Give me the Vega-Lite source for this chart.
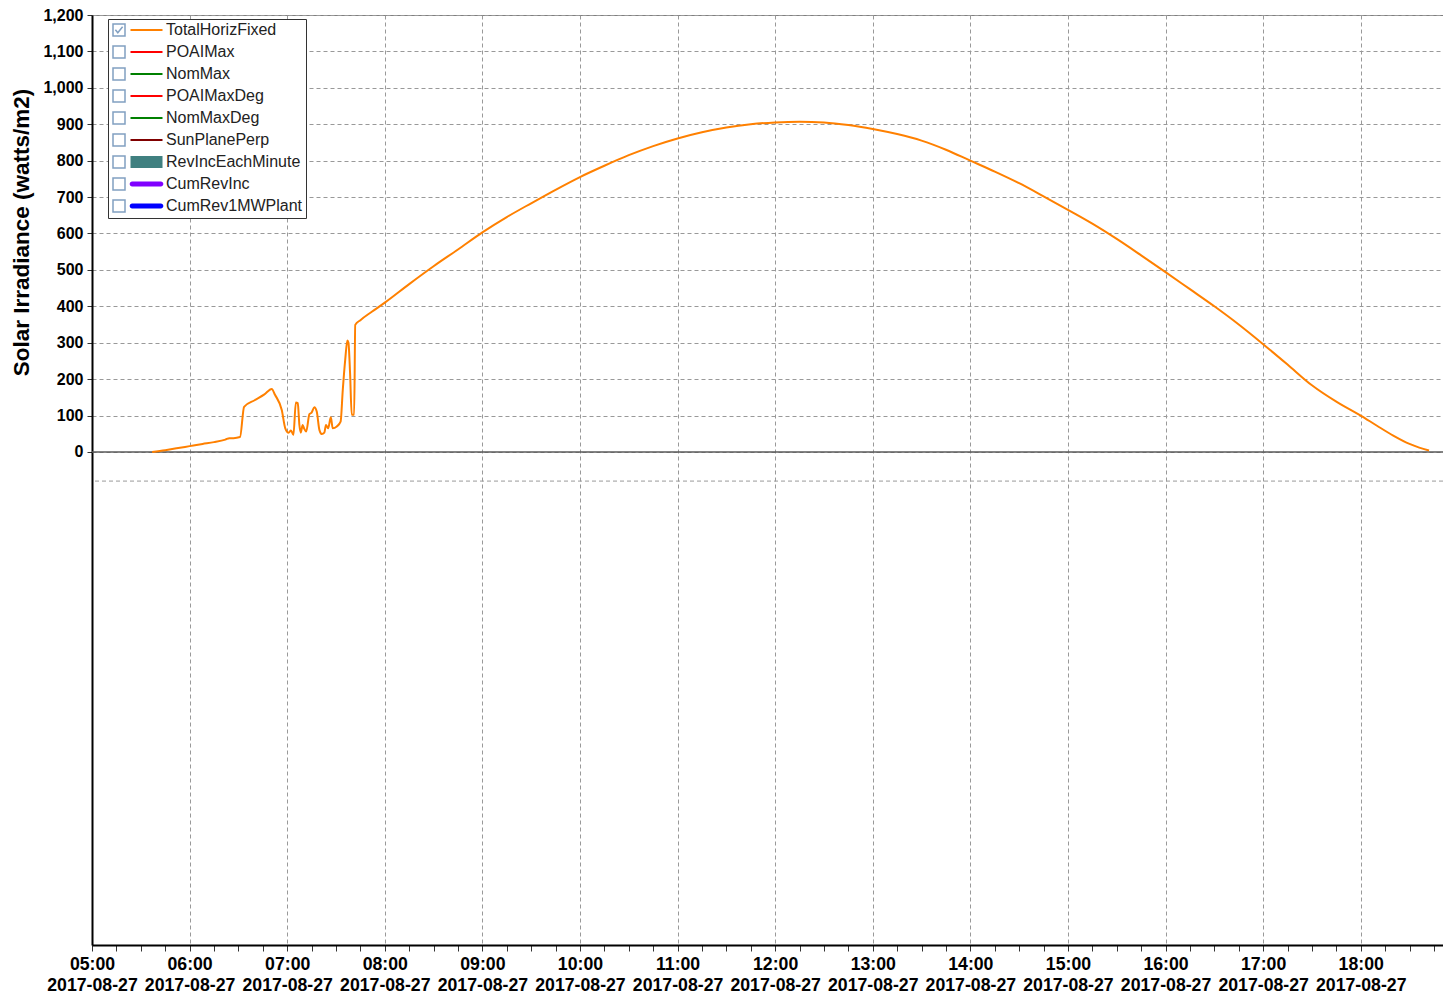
{
  "$schema": "https://vega.github.io/schema/vega-lite/v6.json",
  "width": 1351,
  "height": 930,
  "autosize": {"type": "none"},
  "padding": {"left": 92, "top": 15, "right": 0, "bottom": 50},
  "background": "white",
  "config": {
    "view": {"stroke": "#808080", "strokeWidth": 1},
    "font": "Liberation Sans"
  },
  "title": {
    "text": "Miller Roof, Berkeley CA",
    "font": "Liberation Sans",
    "fontSize": 26,
    "fontWeight": "bold",
    "color": "black",
    "anchor": "middle",
    "baseline": "alphabetic",
    "offset": 0,
    "dy": 10
  },
  "datasets": {
    "irr": [
      {"t": "2017-08-27T05:37:00", "v": 0, "series": "TotalHorizFixed"},
      {"t": "2017-08-27T05:45:00", "v": 5, "series": "TotalHorizFixed"},
      {"t": "2017-08-27T05:52:00", "v": 10, "series": "TotalHorizFixed"},
      {"t": "2017-08-27T06:00:00", "v": 16, "series": "TotalHorizFixed"},
      {"t": "2017-08-27T06:08:00", "v": 22, "series": "TotalHorizFixed"},
      {"t": "2017-08-27T06:15:00", "v": 27, "series": "TotalHorizFixed"},
      {"t": "2017-08-27T06:22:00", "v": 34, "series": "TotalHorizFixed"},
      {"t": "2017-08-27T06:24:30", "v": 38, "series": "TotalHorizFixed"},
      {"t": "2017-08-27T06:27:00", "v": 38, "series": "TotalHorizFixed"},
      {"t": "2017-08-27T06:31:00", "v": 41, "series": "TotalHorizFixed"},
      {"t": "2017-08-27T06:33:30", "v": 124, "series": "TotalHorizFixed"},
      {"t": "2017-08-27T06:40:00", "v": 142, "series": "TotalHorizFixed"},
      {"t": "2017-08-27T06:46:00", "v": 158, "series": "TotalHorizFixed"},
      {"t": "2017-08-27T06:50:30", "v": 173, "series": "TotalHorizFixed"},
      {"t": "2017-08-27T06:52:30", "v": 157, "series": "TotalHorizFixed"},
      {"t": "2017-08-27T06:56:40", "v": 115, "series": "TotalHorizFixed"},
      {"t": "2017-08-27T06:58:50", "v": 65, "series": "TotalHorizFixed"},
      {"t": "2017-08-27T07:00:50", "v": 53, "series": "TotalHorizFixed"},
      {"t": "2017-08-27T07:02:20", "v": 59, "series": "TotalHorizFixed"},
      {"t": "2017-08-27T07:03:50", "v": 47, "series": "TotalHorizFixed"},
      {"t": "2017-08-27T07:05:20", "v": 136, "series": "TotalHorizFixed"},
      {"t": "2017-08-27T07:06:30", "v": 134, "series": "TotalHorizFixed"},
      {"t": "2017-08-27T07:07:30", "v": 74, "series": "TotalHorizFixed"},
      {"t": "2017-08-27T07:08:20", "v": 53, "series": "TotalHorizFixed"},
      {"t": "2017-08-27T07:09:30", "v": 74, "series": "TotalHorizFixed"},
      {"t": "2017-08-27T07:10:20", "v": 65, "series": "TotalHorizFixed"},
      {"t": "2017-08-27T07:11:40", "v": 56, "series": "TotalHorizFixed"},
      {"t": "2017-08-27T07:13:40", "v": 104, "series": "TotalHorizFixed"},
      {"t": "2017-08-27T07:15:00", "v": 108, "series": "TotalHorizFixed"},
      {"t": "2017-08-27T07:16:40", "v": 123, "series": "TotalHorizFixed"},
      {"t": "2017-08-27T07:18:10", "v": 111, "series": "TotalHorizFixed"},
      {"t": "2017-08-27T07:19:50", "v": 60, "series": "TotalHorizFixed"},
      {"t": "2017-08-27T07:21:20", "v": 49, "series": "TotalHorizFixed"},
      {"t": "2017-08-27T07:22:50", "v": 53, "series": "TotalHorizFixed"},
      {"t": "2017-08-27T07:23:50", "v": 74, "series": "TotalHorizFixed"},
      {"t": "2017-08-27T07:25:10", "v": 65, "series": "TotalHorizFixed"},
      {"t": "2017-08-27T07:26:50", "v": 95, "series": "TotalHorizFixed"},
      {"t": "2017-08-27T07:28:00", "v": 65, "series": "TotalHorizFixed"},
      {"t": "2017-08-27T07:30:30", "v": 70, "series": "TotalHorizFixed"},
      {"t": "2017-08-27T07:32:50", "v": 83, "series": "TotalHorizFixed"},
      {"t": "2017-08-27T07:34:10", "v": 170, "series": "TotalHorizFixed"},
      {"t": "2017-08-27T07:35:40", "v": 253, "series": "TotalHorizFixed"},
      {"t": "2017-08-27T07:37:00", "v": 306, "series": "TotalHorizFixed"},
      {"t": "2017-08-27T07:37:40", "v": 300, "series": "TotalHorizFixed"},
      {"t": "2017-08-27T07:38:40", "v": 216, "series": "TotalHorizFixed"},
      {"t": "2017-08-27T07:39:40", "v": 102, "series": "TotalHorizFixed"},
      {"t": "2017-08-27T07:41:10", "v": 102, "series": "TotalHorizFixed"},
      {"t": "2017-08-27T07:41:50", "v": 349, "series": "TotalHorizFixed"},
      {"t": "2017-08-27T07:45:00", "v": 362, "series": "TotalHorizFixed"},
      {"t": "2017-08-27T07:52:00", "v": 385, "series": "TotalHorizFixed"},
      {"t": "2017-08-27T08:00:00", "v": 410, "series": "TotalHorizFixed"},
      {"t": "2017-08-27T08:15:00", "v": 461, "series": "TotalHorizFixed"},
      {"t": "2017-08-27T08:30:00", "v": 510, "series": "TotalHorizFixed"},
      {"t": "2017-08-27T08:45:00", "v": 556, "series": "TotalHorizFixed"},
      {"t": "2017-08-27T09:00:00", "v": 603, "series": "TotalHorizFixed"},
      {"t": "2017-08-27T09:15:00", "v": 645, "series": "TotalHorizFixed"},
      {"t": "2017-08-27T09:30:00", "v": 683, "series": "TotalHorizFixed"},
      {"t": "2017-08-27T09:45:00", "v": 720, "series": "TotalHorizFixed"},
      {"t": "2017-08-27T10:00:00", "v": 755, "series": "TotalHorizFixed"},
      {"t": "2017-08-27T10:15:00", "v": 786, "series": "TotalHorizFixed"},
      {"t": "2017-08-27T10:30:00", "v": 815, "series": "TotalHorizFixed"},
      {"t": "2017-08-27T10:45:00", "v": 840, "series": "TotalHorizFixed"},
      {"t": "2017-08-27T11:00:00", "v": 861, "series": "TotalHorizFixed"},
      {"t": "2017-08-27T11:15:00", "v": 878, "series": "TotalHorizFixed"},
      {"t": "2017-08-27T11:30:00", "v": 891, "series": "TotalHorizFixed"},
      {"t": "2017-08-27T11:45:00", "v": 900, "series": "TotalHorizFixed"},
      {"t": "2017-08-27T12:00:00", "v": 905, "series": "TotalHorizFixed"},
      {"t": "2017-08-27T12:15:00", "v": 907, "series": "TotalHorizFixed"},
      {"t": "2017-08-27T12:30:00", "v": 905, "series": "TotalHorizFixed"},
      {"t": "2017-08-27T12:45:00", "v": 898, "series": "TotalHorizFixed"},
      {"t": "2017-08-27T13:00:00", "v": 887, "series": "TotalHorizFixed"},
      {"t": "2017-08-27T13:15:00", "v": 873, "series": "TotalHorizFixed"},
      {"t": "2017-08-27T13:30:00", "v": 855, "series": "TotalHorizFixed"},
      {"t": "2017-08-27T13:45:00", "v": 830, "series": "TotalHorizFixed"},
      {"t": "2017-08-27T14:00:00", "v": 800, "series": "TotalHorizFixed"},
      {"t": "2017-08-27T14:15:00", "v": 770, "series": "TotalHorizFixed"},
      {"t": "2017-08-27T14:30:00", "v": 738, "series": "TotalHorizFixed"},
      {"t": "2017-08-27T14:45:00", "v": 702, "series": "TotalHorizFixed"},
      {"t": "2017-08-27T15:00:00", "v": 665, "series": "TotalHorizFixed"},
      {"t": "2017-08-27T15:15:00", "v": 627, "series": "TotalHorizFixed"},
      {"t": "2017-08-27T15:30:00", "v": 585, "series": "TotalHorizFixed"},
      {"t": "2017-08-27T15:45:00", "v": 540, "series": "TotalHorizFixed"},
      {"t": "2017-08-27T16:00:00", "v": 494, "series": "TotalHorizFixed"},
      {"t": "2017-08-27T16:15:00", "v": 447, "series": "TotalHorizFixed"},
      {"t": "2017-08-27T16:30:00", "v": 400, "series": "TotalHorizFixed"},
      {"t": "2017-08-27T16:45:00", "v": 350, "series": "TotalHorizFixed"},
      {"t": "2017-08-27T17:00:00", "v": 296, "series": "TotalHorizFixed"},
      {"t": "2017-08-27T17:15:00", "v": 240, "series": "TotalHorizFixed"},
      {"t": "2017-08-27T17:30:00", "v": 183, "series": "TotalHorizFixed"},
      {"t": "2017-08-27T17:45:00", "v": 138, "series": "TotalHorizFixed"},
      {"t": "2017-08-27T18:00:00", "v": 100, "series": "TotalHorizFixed"},
      {"t": "2017-08-27T18:10:00", "v": 72, "series": "TotalHorizFixed"},
      {"t": "2017-08-27T18:20:00", "v": 45, "series": "TotalHorizFixed"},
      {"t": "2017-08-27T18:30:00", "v": 22, "series": "TotalHorizFixed"},
      {"t": "2017-08-27T18:36:00", "v": 12, "series": "TotalHorizFixed"},
      {"t": "2017-08-27T18:42:00", "v": 4, "series": "TotalHorizFixed"}
    ],
    "legendItems": [
      {"item": "TotalHorizFixed"},
      {"item": "POAIMax"},
      {"item": "NomMax"},
      {"item": "POAIMaxDeg"},
      {"item": "NomMaxDeg"},
      {"item": "SunPlanePerp"},
      {"item": "RevIncEachMinute"},
      {"item": "CumRevInc"},
      {"item": "CumRev1MWPlant"}
    ]
  },
  "layer": [
    {
      "encoding": {
        "y": {
          "field": "v",
          "type": "quantitative",
          "scale": {"domain": [-1354, 1200], "nice": false, "zero": false},
          "axis": {
            "title": "Solar Irradiance (watts/m2)",
            "titleFont": "Liberation Sans",
            "titleFontSize": 22.5,
            "titleFontWeight": "bold",
            "titleColor": "black",
            "titleX": -71,
            "titleY": 217,
            "titleAlign": "center",
            "titleBaseline": "middle",
            "titleAngle": 270,
            "values": [0, 100, 200, 300, 400, 500, 600, 700, 800, 900, 1000, 1100, 1200],
            "labelExpr": "format(datum.value, ',')",
            "labelFont": "Liberation Sans",
            "labelFontSize": 16,
            "labelFontWeight": "bold",
            "labelColor": "black",
            "labelPadding": 4,
            "labelFlush": false,
            "labelOverlap": false,
            "domainColor": "black",
            "domainWidth": 2,
            "tickColor": "#333333",
            "tickSize": 5,
            "grid": true,
            "gridColor": "#999999",
            "gridDash": [4, 3],
            "gridWidth": 1
          }
        }
      },
      "layer": [
        {
          "data": {"values": [{"v": -80}]},
          "mark": {"type": "rule", "color": "#999999", "strokeWidth": 1, "strokeDash": [4, 3]}
        },
        {
          "data": {"values": [{"v": 0}]},
          "mark": {"type": "rule", "color": "#5a5a5a", "strokeWidth": 1.5}
        },
        {
          "data": {"name": "irr"},
          "mark": {"type": "line", "strokeWidth": 2, "interpolate": "monotone"},
          "encoding": {
            "x": {
              "field": "t",
              "type": "temporal",
              "scale": {
                "domain": [
                  {"year": 2017, "month": 8, "date": 27, "hours": 5, "minutes": 0},
                  {"year": 2017, "month": 8, "date": 27, "hours": 18, "minutes": 50, "seconds": 35}
                ],
                "nice": false
              },
              "axis": {
                "title": null,
                "values": [
                  {"year": 2017, "month": 8, "date": 27, "hours": 5, "minutes": 0},
                  {"year": 2017, "month": 8, "date": 27, "hours": 5, "minutes": 15},
                  {"year": 2017, "month": 8, "date": 27, "hours": 5, "minutes": 30},
                  {"year": 2017, "month": 8, "date": 27, "hours": 5, "minutes": 45},
                  {"year": 2017, "month": 8, "date": 27, "hours": 6, "minutes": 0},
                  {"year": 2017, "month": 8, "date": 27, "hours": 6, "minutes": 15},
                  {"year": 2017, "month": 8, "date": 27, "hours": 6, "minutes": 30},
                  {"year": 2017, "month": 8, "date": 27, "hours": 6, "minutes": 45},
                  {"year": 2017, "month": 8, "date": 27, "hours": 7, "minutes": 0},
                  {"year": 2017, "month": 8, "date": 27, "hours": 7, "minutes": 15},
                  {"year": 2017, "month": 8, "date": 27, "hours": 7, "minutes": 30},
                  {"year": 2017, "month": 8, "date": 27, "hours": 7, "minutes": 45},
                  {"year": 2017, "month": 8, "date": 27, "hours": 8, "minutes": 0},
                  {"year": 2017, "month": 8, "date": 27, "hours": 8, "minutes": 15},
                  {"year": 2017, "month": 8, "date": 27, "hours": 8, "minutes": 30},
                  {"year": 2017, "month": 8, "date": 27, "hours": 8, "minutes": 45},
                  {"year": 2017, "month": 8, "date": 27, "hours": 9, "minutes": 0},
                  {"year": 2017, "month": 8, "date": 27, "hours": 9, "minutes": 15},
                  {"year": 2017, "month": 8, "date": 27, "hours": 9, "minutes": 30},
                  {"year": 2017, "month": 8, "date": 27, "hours": 9, "minutes": 45},
                  {"year": 2017, "month": 8, "date": 27, "hours": 10, "minutes": 0},
                  {"year": 2017, "month": 8, "date": 27, "hours": 10, "minutes": 15},
                  {"year": 2017, "month": 8, "date": 27, "hours": 10, "minutes": 30},
                  {"year": 2017, "month": 8, "date": 27, "hours": 10, "minutes": 45},
                  {"year": 2017, "month": 8, "date": 27, "hours": 11, "minutes": 0},
                  {"year": 2017, "month": 8, "date": 27, "hours": 11, "minutes": 15},
                  {"year": 2017, "month": 8, "date": 27, "hours": 11, "minutes": 30},
                  {"year": 2017, "month": 8, "date": 27, "hours": 11, "minutes": 45},
                  {"year": 2017, "month": 8, "date": 27, "hours": 12, "minutes": 0},
                  {"year": 2017, "month": 8, "date": 27, "hours": 12, "minutes": 15},
                  {"year": 2017, "month": 8, "date": 27, "hours": 12, "minutes": 30},
                  {"year": 2017, "month": 8, "date": 27, "hours": 12, "minutes": 45},
                  {"year": 2017, "month": 8, "date": 27, "hours": 13, "minutes": 0},
                  {"year": 2017, "month": 8, "date": 27, "hours": 13, "minutes": 15},
                  {"year": 2017, "month": 8, "date": 27, "hours": 13, "minutes": 30},
                  {"year": 2017, "month": 8, "date": 27, "hours": 13, "minutes": 45},
                  {"year": 2017, "month": 8, "date": 27, "hours": 14, "minutes": 0},
                  {"year": 2017, "month": 8, "date": 27, "hours": 14, "minutes": 15},
                  {"year": 2017, "month": 8, "date": 27, "hours": 14, "minutes": 30},
                  {"year": 2017, "month": 8, "date": 27, "hours": 14, "minutes": 45},
                  {"year": 2017, "month": 8, "date": 27, "hours": 15, "minutes": 0},
                  {"year": 2017, "month": 8, "date": 27, "hours": 15, "minutes": 15},
                  {"year": 2017, "month": 8, "date": 27, "hours": 15, "minutes": 30},
                  {"year": 2017, "month": 8, "date": 27, "hours": 15, "minutes": 45},
                  {"year": 2017, "month": 8, "date": 27, "hours": 16, "minutes": 0},
                  {"year": 2017, "month": 8, "date": 27, "hours": 16, "minutes": 15},
                  {"year": 2017, "month": 8, "date": 27, "hours": 16, "minutes": 30},
                  {"year": 2017, "month": 8, "date": 27, "hours": 16, "minutes": 45},
                  {"year": 2017, "month": 8, "date": 27, "hours": 17, "minutes": 0},
                  {"year": 2017, "month": 8, "date": 27, "hours": 17, "minutes": 15},
                  {"year": 2017, "month": 8, "date": 27, "hours": 17, "minutes": 30},
                  {"year": 2017, "month": 8, "date": 27, "hours": 17, "minutes": 45},
                  {"year": 2017, "month": 8, "date": 27, "hours": 18, "minutes": 0},
                  {"year": 2017, "month": 8, "date": 27, "hours": 18, "minutes": 15},
                  {"year": 2017, "month": 8, "date": 27, "hours": 18, "minutes": 30},
                  {"year": 2017, "month": 8, "date": 27, "hours": 18, "minutes": 45}
                ],
                "labelExpr": "minutes(datum.value) === 0 ? [timeFormat(datum.value, '%H:%M'), timeFormat(datum.value, '%Y-%m-%d')] : ''",
                "labelFont": "Liberation Sans",
                "labelFontSize": 17.7,
                "labelFontWeight": "bold",
                "labelColor": "black",
                "labelLineHeight": 21,
                "labelPadding": 4,
                "labelFlush": false,
                "labelOverlap": false,
                "labelBound": false,
                "domainColor": "black",
                "domainWidth": 2,
                "tickColor": "#333333",
                "tickSize": 6,
                "tickWidth": 1,
                "grid": true,
                "gridColor": "#999999",
                "gridDash": [4, 3],
                "gridWidth": 1,
                "gridOpacity": {"condition": {"test": "minutes(datum.value) !== 0", "value": 0}, "value": 1}
              }
            },
            "stroke": {
              "field": "series",
              "type": "nominal",
              "scale": {
                "domain": ["TotalHorizFixed", "POAIMax", "NomMax", "POAIMaxDeg", "NomMaxDeg", "SunPlanePerp", "RevIncEachMinute", "CumRevInc", "CumRev1MWPlant"],
                "range": ["#FF8000", "#FF0000", "#008000", "#FF0000", "#008000", "#800000", "#408080", "#8000FF", "#0000FF"]
              },
              "legend": {
                "title": null,
                "orient": "none",
                "legendX": 43.5,
                "legendY": 4,
                "padding": 3,
                "symbolSize": 144,
                "symbolType": "M-2.667,0H2.667",
                "labelFont": "Liberation Sans",
                "labelFontSize": 16,
                "labelColor": "transparent",
                "labelOffset": 39,
                "rowPadding": 6,
                "zindex": 2,
                "encode": {
                  "symbols": {
                    "update": {
                      "shape": {"signal": "datum.value === 'RevIncEachMinute' ? 'M-2.667,-1H2.667V1H-2.667Z' : (datum.value === 'CumRevInc' || datum.value === 'CumRev1MWPlant') ? 'M-2.4,-0.4H2.4A0.4,0.4 0 0 1 2.4,0.4H-2.4A0.4,0.4 0 0 1 -2.4,-0.4Z' : 'M-2.667,0H2.667'"},
                      "strokeWidth": {"signal": "(datum.value === 'RevIncEachMinute' || datum.value === 'CumRevInc' || datum.value === 'CumRev1MWPlant') ? 0 : 2"},
                      "fill": {"signal": "(datum.value === 'RevIncEachMinute' || datum.value === 'CumRevInc' || datum.value === 'CumRev1MWPlant') ? scale('stroke', datum.value) : 'transparent'"},
                      "opacity": {"value": 1}
                    }
                  }
                }
              }
            }
          }
        }
      ]
    },
    {
      "data": {"name": "legendItems"},
      "mark": {"type": "point", "size": 0, "filled": false},
      "encoding": {
        "shape": {
          "field": "item",
          "type": "nominal",
          "sort": null,
          "scale": {
            "range": [
              "M-1,-1H1V1H-1ZM-0.6,-0.05L-0.2,0.45L0.6,-0.55",
              "M-1,-1H1V1H-1Z",
              "M-1,-1H1V1H-1Z",
              "M-1,-1H1V1H-1Z",
              "M-1,-1H1V1H-1Z",
              "M-1,-1H1V1H-1Z",
              "M-1,-1H1V1H-1Z",
              "M-1,-1H1V1H-1Z",
              "M-1,-1H1V1H-1Z"
            ]
          },
          "legend": {
            "title": null,
            "orient": "none",
            "legendX": 16,
            "legendY": 4,
            "padding": 3,
            "fillColor": "white",
            "strokeColor": "#333333",
            "symbolSize": 144,
            "labelFont": "Liberation Sans",
            "labelFontSize": 16,
            "labelColor": "#222222",
            "labelOffset": 39,
            "rowPadding": 4,
            "zindex": 1,
            "encode": {
              "symbols": {
                "update": {
                  "fill": {"value": "white"},
                  "stroke": {"value": "#707070"},
                  "strokeWidth": {"value": 1},
                  "opacity": {"value": 1}
                }
              }
            }
          }
        }
      }
    }
  ]
}
